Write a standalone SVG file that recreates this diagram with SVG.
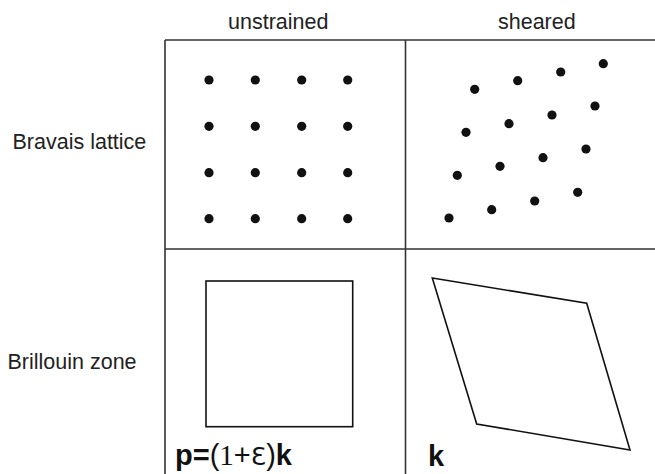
<svg xmlns="http://www.w3.org/2000/svg" width="655" height="474" viewBox="0 0 655 474">
<style>
.lbl{font-family:"Liberation Sans",Arial,sans-serif;font-size:21.5px;fill:#222}
.grid{stroke:#333;stroke-width:1.6;fill:none}
.shape{stroke:#111;stroke-width:1.6;fill:none}
.dot{fill:#111}
.f{font-family:"Liberation Sans",Arial,sans-serif;font-size:29px;fill:#111}
.b{font-weight:bold}
.s{font-family:"Liberation Serif","Times New Roman",serif}
.e{font-family:"DejaVu Sans","Liberation Sans",sans-serif;font-size:25px}
</style>
<rect width="655" height="474" fill="#fff"/>
<g id="connectors">
<line class="grid" x1="165" y1="40" x2="655" y2="40"/>
<line class="grid" x1="165" y1="249" x2="655" y2="249"/>
<line class="grid" x1="165" y1="40" x2="165" y2="474"/>
<line class="grid" x1="405.5" y1="40" x2="405.5" y2="474"/>
</g>
<g id="header-unstrained"><text class="lbl" x="228" y="28.5">unstrained</text></g>
<g id="header-sheared"><text class="lbl" x="498" y="28.5">sheared</text></g>
<g id="row-bravais"><text class="lbl" x="12.5" y="148.5">Bravais lattice</text></g>
<g id="row-brillouin"><text class="lbl" x="7.5" y="368.5">Brillouin zone</text></g>
<g id="lattice-unstrained">
<circle class="dot" cx="209" cy="80" r="4.6"/><circle class="dot" cx="255.3" cy="80" r="4.6"/><circle class="dot" cx="301.7" cy="80" r="4.6"/><circle class="dot" cx="347.7" cy="80" r="4.6"/>
<circle class="dot" cx="209" cy="126.3" r="4.6"/><circle class="dot" cx="255.3" cy="126.3" r="4.6"/><circle class="dot" cx="301.7" cy="126.3" r="4.6"/><circle class="dot" cx="347.7" cy="126.3" r="4.6"/>
<circle class="dot" cx="209" cy="172.7" r="4.6"/><circle class="dot" cx="255.3" cy="172.7" r="4.6"/><circle class="dot" cx="301.7" cy="172.7" r="4.6"/><circle class="dot" cx="347.7" cy="172.7" r="4.6"/>
<circle class="dot" cx="209" cy="218.7" r="4.6"/><circle class="dot" cx="255.3" cy="218.7" r="4.6"/><circle class="dot" cx="301.7" cy="218.7" r="4.6"/><circle class="dot" cx="347.7" cy="218.7" r="4.6"/>
</g>
<g id="lattice-sheared">
<circle class="dot" cx="474.7" cy="89.3" r="4.6"/><circle class="dot" cx="517.7" cy="80.7" r="4.6"/><circle class="dot" cx="560.7" cy="72" r="4.6"/><circle class="dot" cx="603.3" cy="63.7" r="4.6"/>
<circle class="dot" cx="466" cy="132.3" r="4.6"/><circle class="dot" cx="509" cy="123.7" r="4.6"/><circle class="dot" cx="552" cy="115" r="4.6"/><circle class="dot" cx="595" cy="106" r="4.6"/>
<circle class="dot" cx="457.3" cy="175.3" r="4.6"/><circle class="dot" cx="500" cy="166.3" r="4.6"/><circle class="dot" cx="543" cy="157.7" r="4.6"/><circle class="dot" cx="586" cy="149" r="4.6"/>
<circle class="dot" cx="449" cy="218" r="4.6"/><circle class="dot" cx="491.7" cy="209.7" r="4.6"/><circle class="dot" cx="534.7" cy="201" r="4.6"/><circle class="dot" cx="577.7" cy="192.3" r="4.6"/>
</g>
<g id="bz-unstrained">
<rect class="shape" x="206" y="281" width="146.7" height="145.7"/>
<text class="f" x="175" y="465"><tspan class="b">p=</tspan>(<tspan class="s">1</tspan>+<tspan class="e">Ɛ</tspan>)<tspan class="b">k</tspan></text>
</g>
<g id="bz-sheared">
<polygon class="shape" points="432.3,278 586.7,303.3 630,450 476.7,424"/>
<text class="f b" x="428" y="466">k</text>
</g>
</svg>
